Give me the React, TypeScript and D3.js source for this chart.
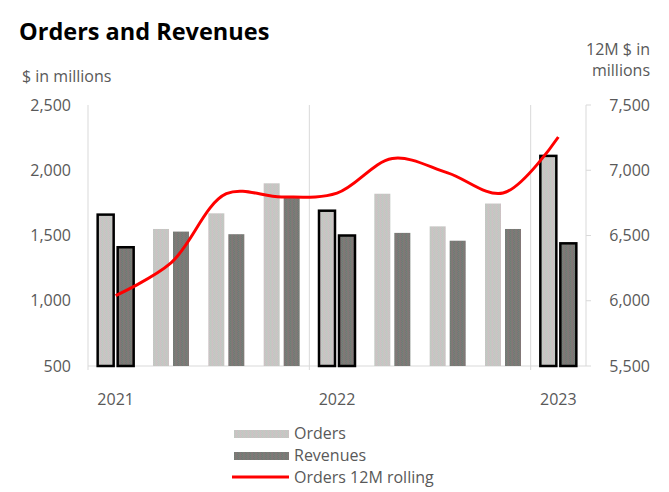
import React from "react";
import * as d3 from "d3";

const categories = ["Q1 2021", "Q2 2021", "Q3 2021", "Q4 2021", "Q1 2022", "Q2 2022", "Q3 2022", "Q4 2022", "Q1 2023"];
const orders = [1660, 1550, 1670, 1900, 1690, 1820, 1570, 1745, 2110];
const revenues = [1410, 1530, 1510, 1800, 1500, 1520, 1460, 1550, 1440];
const rolling = [6040, 6290, 6820, 6795, 6825, 7090, 6980, 6825, 7255];
const highlighted = [0, 4, 8];
const yearLabels = [{ idx: 0, label: "2021" }, { idx: 4, label: "2022" }, { idx: 8, label: "2023" }];
const leftTicks = [500, 1000, 1500, 2000, 2500];
const rightTicks = [5500, 6000, 6500, 7000, 7500];

const FONT = "'Open Sans', sans-serif";
const GRAY = "#595959";

export default function App() {
  const W = 669, H = 492;
  const left = 88, right = 586, top = 105, bottom = 366;
  const x = d3.scaleBand<string>().domain(categories).range([left, right]).paddingInner(0).paddingOuter(0);
  const yL = d3.scaleLinear().domain([500, 2500]).range([bottom, top]);
  const yR = d3.scaleLinear().domain([5500, 7500]).range([bottom, top]);
  const bw = 16, gap = 4;
  const line = d3.line<number>()
    .x((_, i) => (x(categories[i]) as number) + x.bandwidth() / 2)
    .y((d) => yR(d))
    .curve(d3.curveCatmullRom.alpha(0.5));
  const ordersColors = ["#cdbfca", "#bfcbbd", "#c3c6c8", "#cbc5bd"];
  const revColors = ["#80727f", "#6f806d", "#78797f", "#837c6e"];
  const pat = (id: string, cols: string[]) => (
    <pattern id={id} width={4} height={4} patternUnits="userSpaceOnUse">
      {[0, 1, 2, 3].map((r) => [0, 1, 2, 3].map((c) => (
        <rect key={`${r}-${c}`} x={c} y={r} width={1} height={1} fill={cols[(r * 2 + c + (r % 2)) % 4]} />
      )))}
    </pattern>
  );
  return (
    <svg width={W} height={H} style={{ position: "absolute", left: 0, top: 0 }} fontFamily={FONT}>
      <defs>
        {pat("pOrders", ordersColors)}
        {pat("pRev", revColors)}
      </defs>
      <rect width={W} height={H} fill="#fff" />
      <text x={19} y={40} fontSize={23.5} fontWeight="bold" fill="#000">Orders and Revenues</text>
      <text x={22} y={82} fontSize={16} fill={GRAY}>$ in millions</text>
      <text x={650} y={55} fontSize={16} fill={GRAY} textAnchor="end">12M $ in</text>
      <text x={650} y={76} fontSize={16} fill={GRAY} textAnchor="end">millions</text>
      {[0, 4, 8].map((i) => (
        <line key={i} x1={(x(categories[i]) as number)} x2={(x(categories[i]) as number)} y1={top} y2={bottom + 4} stroke="#d9d9d9" strokeWidth={1} />
      ))}
      <line x1={right} x2={right} y1={top} y2={bottom} stroke="#d9d9d9" />
      {rightTicks.map((t) => (
        <line key={t} x1={right} x2={right + 5} y1={yR(t)} y2={yR(t)} stroke="#d9d9d9" />
      ))}
      <line x1={left} x2={right} y1={bottom} y2={bottom} stroke="#d9d9d9" />
      {leftTicks.map((t) => (
        <text key={t} x={71} y={yL(t)} dy="0.35em" fontSize={16} fill={GRAY} textAnchor="end">{d3.format(",")(t)}</text>
      ))}
      {rightTicks.map((t) => (
        <text key={t} x={650} y={yR(t)} dy="0.35em" fontSize={16} fill={GRAY} textAnchor="end">{d3.format(",")(t)}</text>
      ))}
      {yearLabels.map((d) => (
        <text key={d.label} x={(x(categories[d.idx]) as number) + x.bandwidth() / 2} y={405} fontSize={16} fill={GRAY} textAnchor="middle">{d.label}</text>
      ))}
      {categories.map((c, i) => {
        const cx = (x(c) as number) + x.bandwidth() / 2;
        const hl = highlighted.includes(i);
        return (
          <g key={c}>
            <rect x={cx - gap / 2 - bw} y={yL(orders[i])} width={bw} height={bottom - yL(orders[i])} fill="url(#pOrders)"
              stroke={hl ? "#000" : "none"} strokeWidth={hl ? 2.5 : 0} />
            <rect x={cx + gap / 2} y={yL(revenues[i])} width={bw} height={bottom - yL(revenues[i])} fill="url(#pRev)"
              stroke={hl ? "#000" : "none"} strokeWidth={hl ? 2.5 : 0} />
          </g>
        );
      })}
      <path d={line(rolling) as string} fill="none" stroke="#ff0000" strokeWidth={3} />
      <rect x={234} y={430} width={55} height={8} fill="url(#pOrders)" />
      <text x={294} y={439} fontSize={16} fill={GRAY}>Orders</text>
      <rect x={234} y={452} width={55} height={8} fill="url(#pRev)" />
      <text x={294} y={461} fontSize={16} fill={GRAY}>Revenues</text>
      <line x1={232} x2={289} y1={477} y2={477} stroke="#ff0000" strokeWidth={3} />
      <text x={294} y={483} fontSize={16} fill={GRAY}>Orders 12M rolling</text>
    </svg>
  );
}
